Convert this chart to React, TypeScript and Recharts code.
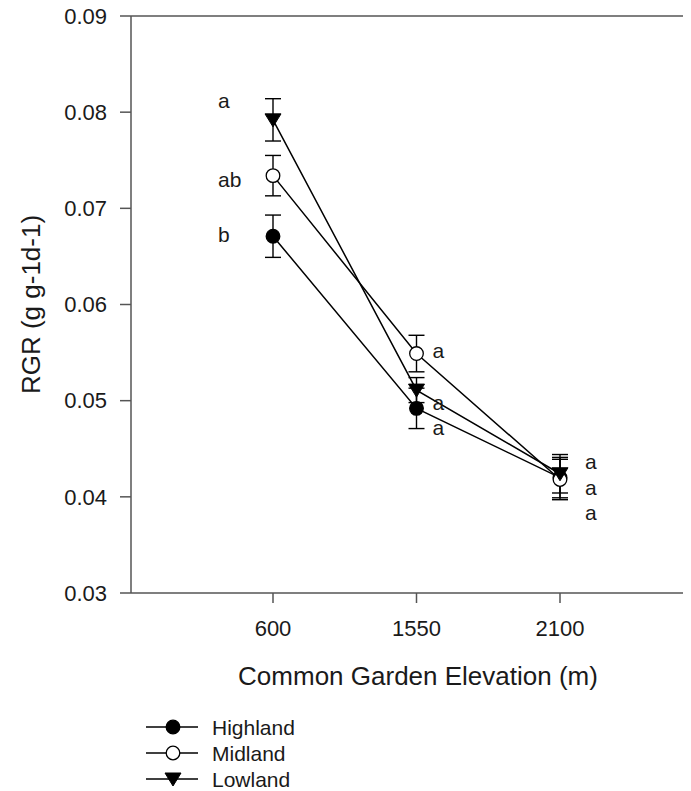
import React from 'react'
import { LineChart, Line, XAxis, YAxis, ErrorBar, ReferenceLine, ReferenceDot, Legend } from 'recharts'

const categories = ['600', '1550', '2100']
const highland = [0.0671, 0.0492, 0.042]
const highlandErr = [0.0022, 0.0021, 0.0021]
const midland = [0.0734, 0.0549, 0.0418]
const midlandErr = [0.0021, 0.0019, 0.0021]
const lowland = [0.0792, 0.0511, 0.0424]
const lowlandErr = [0.0022, 0.0013, 0.002]
const yTicks = [0.03, 0.04, 0.05, 0.06, 0.07, 0.08, 0.09]

// significance letters beside each group of points
const letterCats = ['600', '600', '600', '1550', '1550', '1550', '2100', '2100', '2100']
const letterValues = [0.081, 0.0728, 0.0671, 0.055, 0.0496, 0.047, 0.0435, 0.0408, 0.0382]
const letterTexts = ['a', 'ab', 'b', 'a', 'a', 'a', 'a', 'a', 'a']

const FONT = '"Liberation Sans", Arial, Helvetica, sans-serif'
const TEXT = '#1a1a1a'
const AXIS = '#555'

// horizontal shift of the letters from their point
const letterDx: Record<string, number> = { '600': -55, '1550': 16, '2100': 25 }

const chartData = categories.map((cat, i) => ({
  cat,
  highland: highland[i],
  highlandErr: highlandErr[i],
  midland: midland[i],
  midlandErr: midlandErr[i],
  lowland: lowland[i],
  lowlandErr: lowlandErr[i],
}))

type Shape = 'filled' | 'open' | 'triangle'

const marker = (shape: Shape, cx: number, cy: number, key?: string | number) => {
  if (shape === 'triangle') {
    return (
      <polygon
        key={key}
        points={`${cx - 8},${cy - 6} ${cx + 8},${cy - 6} ${cx},${cy + 7}`}
        fill="#000"
        stroke="#000"
        strokeWidth={1}
      />
    )
  }
  return (
    <circle
      key={key}
      cx={cx}
      cy={cy}
      r={6.8}
      fill={shape === 'filled' ? '#000' : '#fff'}
      stroke="#000"
      strokeWidth={1.3}
    />
  )
}

const series: Array<{ key: string; name: string; shape: Shape }> = [
  { key: 'highland', name: 'Highland', shape: 'filled' },
  { key: 'midland', name: 'Midland', shape: 'open' },
  { key: 'lowland', name: 'Lowland', shape: 'triangle' },
]

const YTitle = (props: any) => {
  const vb = props.viewBox || { y: 16, height: 577 }
  const cx = 31
  const cy = vb.y + vb.height / 2
  return (
    <text
      x={cx}
      y={cy}
      transform={`rotate(-90 ${cx} ${cy})`}
      textAnchor="middle"
      dy="0.35em"
      fontSize={26}
      fontFamily={FONT}
      fill={TEXT}
    >
      RGR (g g-1d-1)
    </text>
  )
}

const LegendBox = () => (
  <svg width={200} height={80} style={{ display: 'block', fontFamily: FONT }}>
    {series.map((s, i) => {
      const y = 12 + i * 26
      return (
        <g key={s.key}>
          <line x1={8} x2={60} y1={y} y2={y} stroke="#000" strokeWidth={1.5} />
          {marker(s.shape, 35, y)}
          <text x={74} y={y} dy="0.36em" fontSize={21} fill={TEXT}>
            {s.name}
          </text>
        </g>
      )
    })}
  </svg>
)

export default function App() {
  return (
    <div style={{ width: 691, height: 791, margin: '-8px 0 0 -8px', overflow: 'hidden' }}>
      <LineChart
        width={705}
        height={791}
        data={chartData}
        margin={{ top: 16, right: 0, left: 0, bottom: 98 }}
        style={{ fontFamily: FONT }}
      >
        <XAxis
          dataKey="cat"
          type="category"
          padding={{ left: 142, right: 145 }}
          height={100}
          stroke={AXIS}
          strokeWidth={1.5}
          tickSize={10}
          tickMargin={17}
          tick={{ fill: TEXT, fontSize: 22, fontFamily: FONT }}
          label={{ value: 'Common Garden Elevation (m)', position: 'insideBottom', offset: 8, fill: TEXT, fontSize: 26, fontFamily: FONT }}
        />
        <YAxis
          type="number"
          domain={[0.03, 0.09]}
          ticks={yTicks}
          interval={0}
          width={131}
          stroke={AXIS}
          strokeWidth={1.5}
          tickSize={11}
          tickMargin={13}
          tickFormatter={(v: number) => v.toFixed(2)}
          tick={{ fill: TEXT, fontSize: 22, fontFamily: FONT }}
          label={<YTitle />}
        />
        <ReferenceLine y={0.09} stroke={AXIS} strokeWidth={1.5} />
        {series.map(s => (
          <Line
            key={s.key}
            dataKey={s.key}
            name={s.name}
            type="linear"
            stroke="#000"
            strokeWidth={1.5}
            isAnimationActive={false}
            dot={(p: any) => marker(s.shape, p.cx, p.cy, `${s.key}-${p.index}`)}
            activeDot={false}
          >
            <ErrorBar dataKey={`${s.key}Err`} width={8} stroke="#000" strokeWidth={1.4} direction="y" isAnimationActive={false} />
          </Line>
        ))}
        {letterTexts.map((t, i) => (
          <ReferenceDot
            key={`letter-${i}`}
            x={letterCats[i]}
            y={letterValues[i]}
            r={0}
            shape={(p: any) => (
              <text
                x={p.cx + letterDx[letterCats[i]]}
                y={p.cy}
                dy="0.26em"
                fontSize={21}
                fontFamily={FONT}
                fill={TEXT}
              >
                {t}
              </text>
            )}
          />
        ))}
        <Legend
          layout="vertical"
          align="center"
          verticalAlign="middle"
          content={<LegendBox />}
          wrapperStyle={{ position: 'absolute', left: 138, top: 715, width: 200, height: 80 }}
        />
      </LineChart>
    </div>
  )
}
